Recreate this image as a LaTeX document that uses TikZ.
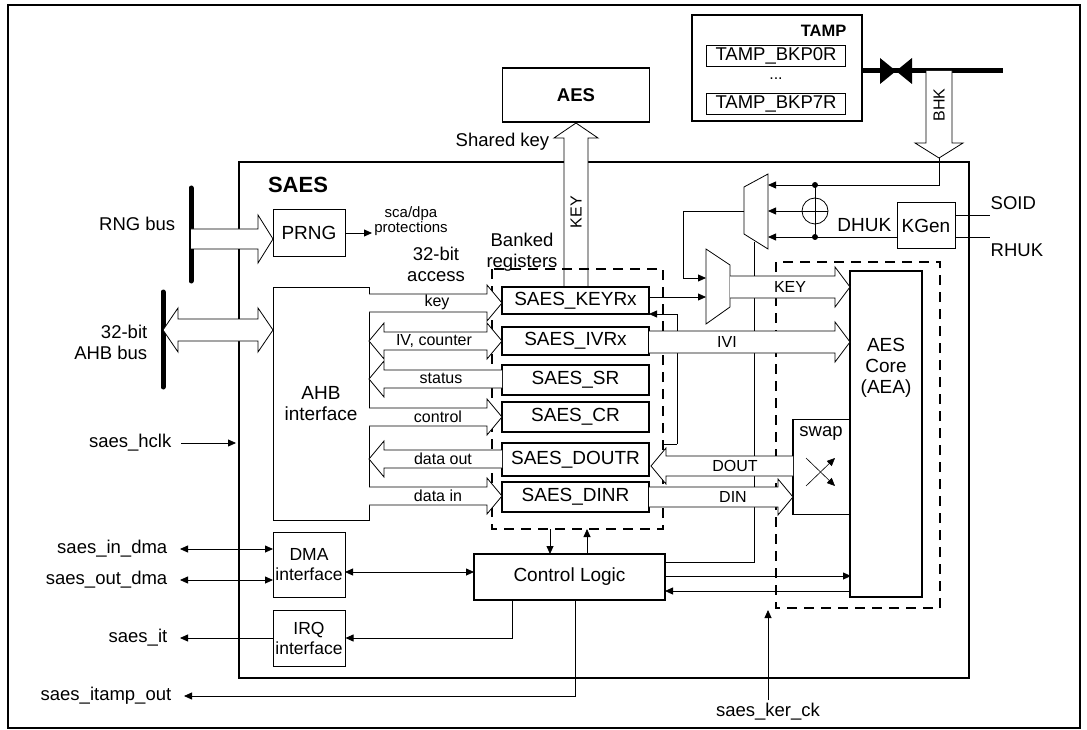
\documentclass[tikz,border=0pt]{standalone}
\usepackage{fontspec}
\setmainfont{Liberation Sans}
\usetikzlibrary{arrows.meta}
\newcommand\hRa[5]{\draw[fill=white] (#1,#3-#4) -- (#2-15,#3-#4) -- (#2-15,#3-#5) -- (#2,#3) -- (#2-15,#3+#5) -- (#2-15,#3+#4) -- (#1,#3+#4);}
\newcommand\hLa[5]{\draw[fill=white] (#1,#3-#4) -- (#2+15,#3-#4) -- (#2+15,#3-#5) -- (#2,#3) -- (#2+15,#3+#5) -- (#2+15,#3+#4) -- (#1,#3+#4);}
\newcommand\hDa[5]{\draw[fill=white] (#3-#4,#1) -- (#3-#4,#2-15) -- (#3-#5,#2-15) -- (#3,#2) -- (#3+#5,#2-15) -- (#3+#4,#2-15) -- (#3+#4,#1);}
\newcommand\hUa[5]{\draw[fill=white] (#3-#4,#1) -- (#3-#4,#2+15) -- (#3-#5,#2+15) -- (#3,#2) -- (#3+#5,#2+15) -- (#3+#4,#2+15) -- (#3+#4,#1);}
\newcommand\hBa[5]{\draw[fill=white] (#1,#3) -- (#1+15,#3-#5) -- (#1+15,#3-#4) -- (#2-15,#3-#4) -- (#2-15,#3-#5) -- (#2,#3) -- (#2-15,#3+#5) -- (#2-15,#3+#4) -- (#1+15,#3+#4) -- (#1+15,#3+#5) -- cycle;}
\begin{document}
\begin{tikzpicture}[x=1pt,y=-1pt,line width=0.8pt,
  box/.style={draw,line width=1.1pt,inner sep=0pt,align=center},
  fb/.style={font=\fontsize{19}{21}\selectfont},
  fi/.style={font=\fontsize{17.5}{20}\selectfont},
  fl/.style={font=\fontsize{18.5}{21}\selectfont},
  fm/.style={font=\fontsize{16}{17}\selectfont},
  fs/.style={font=\fontsize{14}{15}\selectfont},
  a/.style={-{Triangle[length=8pt,width=7pt]}},
  aa/.style={{Triangle[length=8pt,width=7pt]}-{Triangle[length=8pt,width=7pt]}},
  bus/.style={line width=5pt,line cap=round},
  dsh/.style={dash pattern=on 10pt off 7pt,line width=1.3pt}]
\useasboundingbox (0,0) rectangle (1087,730);
\draw[line width=1.3pt] (8,5) rectangle (1080,728);
% SAES
\draw[line width=1.8pt] (239,162) rectangle (969,678);
\node[font=\fontsize{22}{24}\selectfont\bfseries] (saes) at (298,185) {SAES};
% TAMP
\draw[line width=1.8pt] (692,15) rectangle (862,121);
\node[font=\fontsize{16.5}{17}\selectfont\bfseries,anchor=east] (tamp) at (850,31) {TAMP};
\node[draw,line width=0.8pt,minimum width=139pt,minimum height=21pt,inner sep=0pt,fl] (b0) at (776,56) {TAMP\_BKP0R};
\node[fm,inner sep=0pt] (dots) at (776,79) {...};
\node[draw,line width=0.8pt,minimum width=139pt,minimum height=21pt,inner sep=0pt,fl] (b7) at (776,104) {TAMP\_BKP7R};
\draw[bus,line cap=butt] (862,71) -- (1003,71);
\fill (880,58) -- (896,71) -- (880,84) -- cycle;
\fill (912,58) -- (896,71) -- (912,84) -- cycle;
\hDa{71}{158}{939}{13}{24}
\node[fm,rotate=90] (bhk) at (939,105) {BHK};
% AES
\node[box,line width=1.8pt,minimum width=147pt,minimum height=54pt,font=\fontsize{18.5}{20}\selectfont\bfseries] (aes) at (576,95) {AES};
\hUa{287}{123}{576}{12}{22}
\node[fl,anchor=east] (shk) at (553,142) {Shared key};
\node[fm,rotate=90] (keyv) at (576,212) {KEY};
% RNG
\draw[bus] (191,188) -- (191,281);
\node[fl,anchor=east] (rngl) at (179,224) {RNG bus};
\node[box,line width=1pt,minimum width=72pt,minimum height=46pt,fb] (prng) at (309,233) {PRNG};
\hRa{191}{273}{239}{10}{24}
\draw[a] (prng.east) -- (372,233);
\node[font=\fontsize{15}{15.5}\selectfont,align=center] (sca) at (411,221) {sca/dpa\\protections};
% AHB
\draw[bus] (163,292) -- (163,387);
\node[fl,anchor=east,align=right] (ahbl) at (151,342) {32-bit\\AHB bus};
\node[box,line width=1pt,minimum width=96pt,minimum height=233pt,fb] (ahb) at (321,403.5) {AHB\\interface};
\hBa{163}{273}{330}{11}{22}
\node[fl,anchor=east] (hclk) at (175,443) {saes\_hclk};
\draw[a] (181,443) -- (236,443);
% registers
\draw[dsh] (492,269) rectangle (663,529);
\node[fl,align=center] (bank) at (522,252) {Banked\\registers};
\node[fl,align=center] (acc) at (436,264) {32-bit\\access};
\foreach \n/\t/\y/\h in {keyr/SAES\_KEYRx/300.5/27,ivr/SAES\_IVRx/341/28,sr/SAES\_SR/380/30,cr/SAES\_CR/417/30,doutr/SAES\_DOUTR/459.5/33,dinr/SAES\_DINR/497/30}
  \node[box,fill=white,line width=1.1pt,minimum width=147pt,minimum height=\h pt,fb] (\n) at (575.5,\y) {\t};
\hRa{369}{502}{303}{9}{18}
\node[fm] at (437,302) {key};
\hBa{369}{502}{341}{9}{18}
\node[fm] at (434,341) {IV, counter};
\hLa{502}{369}{379}{9}{18}
\node[fm] at (441,378) {status};
\hRa{369}{502}{417}{9}{18}
\node[fm] at (438,417) {control};
\hLa{502}{369}{459}{9}{18}
\node[fm] at (443,459) {data out};
\hRa{369}{502}{496}{9}{18}
\node[fm] at (438,496) {data in};
% muxes, key derivation
\draw (744,187) -- (768,174) -- (768,249) -- (744,234) -- cycle;
\draw (706,249) -- (730,265) -- (730,307) -- (706,324) -- cycle;
\node[box,line width=1pt,minimum width=58pt,minimum height=46pt,fb] (kgen) at (926,226) {KGen};
\draw (815,211) circle (13);
\draw (802,211) -- (828,211) (815,198) -- (815,224);
\draw[a] (939,158) -- (939,185) -- (768,185);
\draw[a] (802,211) -- (768,211);
\draw[a] (897,237) -- (768,237);
\draw (815,185) -- (815,237);
\fill (815,185) circle (3) (815,237) circle (3);
\node[fb,anchor=east] (dhuk) at (895,225) {DHUK};
\draw (955,215) -- (990,215);
\draw (955,237) -- (990,237);
\node[fl,anchor=west] (soid) at (987,203) {SOID};
\node[fl,anchor=west] (rhuk) at (987,250) {RHUK};
\draw[a] (744,211) -- (683,211) -- (683,278) -- (706,278);
\draw[a] (649,297) -- (706,297);
\draw[a] (677,444) -- (677,314) -- (649,314);
\draw (663,444) -- (677,444);
% AES core
\draw[dsh] (776,262) rectangle (940,608);
\node[box,line width=1.1pt,minimum width=72pt,minimum height=326pt] (core) at (886,434) {};
\node[fb,align=center] at (886,368) {AES\\Core\\(AEA)};
\node[box,line width=1.1pt,minimum width=57pt,minimum height=95pt] (swap) at (821.5,467) {};
\node[fl] at (821,433) {swap};
\draw[a,line width=0.6pt] (806,486) -- (835,458);
\draw[a,line width=0.6pt] (806,458) -- (835,486);
\draw (754,242) -- (754,562) -- (665,562);
\hRa{730}{850}{287}{11}{20}
\node[fm] at (790,287) {KEY};
\hRa{649}{850}{342}{11}{20}
\node[fm] at (727,342) {IVI};
\hLa{793}{651}{466}{10}{18}
\node[fm] at (735,466) {DOUT};
\hRa{649}{793}{497}{10}{18}
\node[fm] at (733,497) {DIN};
% control logic
\node[box,line width=1.1pt,minimum width=191pt,minimum height=46pt,fb] (cl) at (569.5,577) {Control Logic};
\draw[a] (665,576) -- (851,576);
\draw[a] (851,591) -- (665,591);
\draw[a] (550,529) -- (550,554);
\draw[a] (587,554) -- (587,529);
\node[box,line width=1pt,minimum width=72pt,minimum height=65pt,fi] (dma) at (309,565) {DMA\\interface};
\node[box,line width=1pt,minimum width=72pt,minimum height=56pt,fi] (irq) at (309,638) {IRQ\\interface};
\draw[aa] (345,572) -- (474,572);
\node[fl,anchor=east] (indma) at (171,549) {saes\_in\_dma};
\node[fl,anchor=east] (outdma) at (171,580) {saes\_out\_dma};
\node[fl,anchor=east] (it) at (171,638) {saes\_it};
\node[fl,anchor=east] (itamp) at (175,696) {saes\_itamp\_out};
\draw[aa] (180,549) -- (273,549);
\draw[aa] (180,580) -- (273,580);
\draw[a] (irq.west) -- (180,638);
\draw[a] (512,600) -- (512,638) -- (irq.east);
\draw[a] (575,600) -- (575,696) -- (184,696);
\draw[a] (768,700) -- (768,610);
\node[fl] (ker) at (768,712) {saes\_ker\_ck};
\end{tikzpicture}
\end{document}
